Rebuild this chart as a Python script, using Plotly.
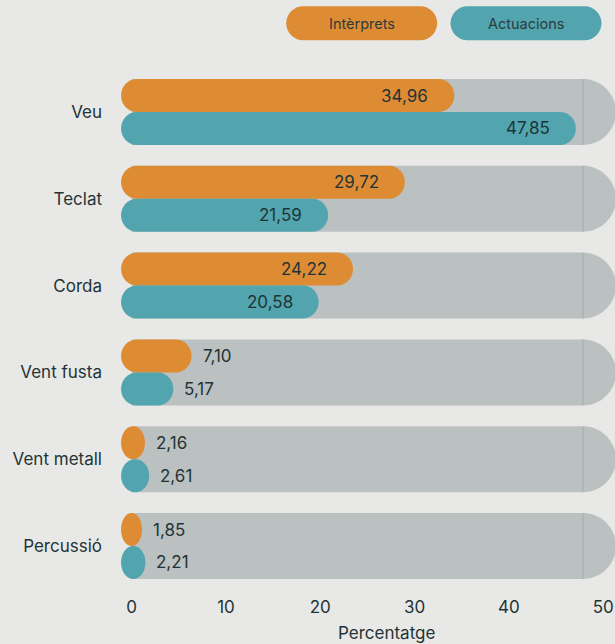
import plotly.graph_objects as go

# ---------------- data ----------------
categories = ["Veu", "Teclat", "Corda", "Vent fusta", "Vent metall", "Percussió"]
interprets = [34.96, 29.72, 24.22, 7.10, 2.16, 1.85]
actuacions = [47.85, 21.59, 20.58, 5.17, 2.61, 2.21]
series_names = ["Intèrprets", "Actuacions"]
x_ticks = [0, 10, 20, 30, 40, 50]
axis_title = "Percentatge"

# ---------------- style ----------------
W, H = 615, 644
BG = "#E8E8E6"
ORANGE = "#DE8C34"
TEAL = "#52A5AE"
GREY = "#BBC0C0"
SEAM = "#A4ABAB"
TXT = "#1F3436"
FONT = "Inter"
FS = 17

M_L, M_R, M_T, M_B = 110, 0, 60, 54
PW = W - M_L - M_R
PH = H - M_T - M_B
X_RANGE = [-2.30, 51.25]
Y_RANGE = [5.507, -0.599]
XS = PW / (X_RANGE[1] - X_RANGE[0])      # px per x unit
YS = PH / (Y_RANGE[0] - Y_RANGE[1])      # px per y unit
HALF = 0.38                               # half band height (y units)
BAR_PAD_L = 1.13                          # left cap overhang (x units)
BAR_END_OFF = -0.75
CAP_PX = 16

K = 0.5523


def rrect(x0, x1, y0, y1, rx, ry, left=True, right=True):
    rx = min(rx, (x1 - x0) / 2)
    ry = min(ry, (y1 - y0) / 2)
    p = []
    sx = x0 + rx if left else x0
    p.append(f"M {sx},{y0}")
    ex = x1 - rx if right else x1
    p.append(f"L {ex},{y0}")
    if right:
        p.append(f"C {x1 - rx + K * rx},{y0} {x1},{y0 + ry - K * ry} {x1},{y0 + ry}")
        p.append(f"L {x1},{y1 - ry}")
        p.append(f"C {x1},{y1 - ry + K * ry} {x1 - rx + K * rx},{y1} {x1 - rx},{y1}")
    else:
        p.append(f"L {x1},{y1}")
    p.append(f"L {sx},{y1}")
    if left:
        p.append(f"C {x0 + rx - K * rx},{y1} {x0},{y1 - ry + K * ry} {x0},{y1 - ry}")
        p.append(f"L {x0},{y0 + ry}")
        p.append(f"C {x0},{y0 + ry - K * ry} {x0 + rx - K * rx},{y0} {x0 + rx},{y0}")
    p.append("Z")
    return " ".join(p)


fig = go.Figure()
shapes = []
annotations = []

vmax = max(max(interprets), max(actuacions))
band_cap = (HALF * YS) / XS

for i, cat in enumerate(categories):
    # grey background band
    shapes.append(dict(type="path", xref="x", yref="y", layer="below",
                       path=rrect(0, vmax + band_cap, i - HALF, i + HALF,
                                  band_cap, HALF, left=False, right=True),
                       fillcolor=GREY, line=dict(width=0)))
    shapes.append(dict(type="line", xref="x", yref="y", layer="below",
                       x0=vmax, x1=vmax, y0=i - HALF, y1=i + HALF,
                       line=dict(color=SEAM, width=1)))
    for vals, col, y0, y1 in [(interprets, ORANGE, i - HALF, i),
                              (actuacions, TEAL, i, i + HALF)]:
        v = vals[i]
        x0 = -BAR_PAD_L
        x1 = v + BAR_END_OFF
        shapes.append(dict(type="path", xref="x", yref="y", layer="above",
                           path=rrect(x0, x1, y0, y1, CAP_PX / XS, (y1 - y0) / 2),
                           fillcolor=col, line=dict(width=0)))
        label = f"{v:.2f}".replace(".", ",")
        inside = v >= 10
        annotations.append(dict(x=x1, y=(y0 + y1) / 2, xref="x", yref="y",
                                text=label, showarrow=False,
                                xanchor="right" if inside else "left",
                                xshift=-24 if inside else 9, yanchor="middle",
                                font=dict(family=FONT, size=FS, color=TXT)))

# invisible trace to carry the axes / hover
fig.add_trace(go.Scatter(x=interprets + actuacions,
                         y=list(range(len(categories))) * 2,
                         mode="markers", marker=dict(opacity=0),
                         hoverinfo="skip", showlegend=False))

# legend pills (paper / pixel)
pill_w, pill_h = 151, 34
pill_centers_px = [361.7, 526.0]
pill_cy_px = 23.3
for name, col, cx in zip(series_names, [ORANGE, TEAL], pill_centers_px):
    xa = (cx - M_L) / PW
    ya = (H - M_B - pill_cy_px) / PH
    r = pill_h / 2
    shapes.append(dict(type="path", xref="paper", yref="paper",
                       xsizemode="pixel", ysizemode="pixel",
                       xanchor=xa, yanchor=ya,
                       path=rrect(-pill_w / 2, pill_w / 2, -pill_h / 2, pill_h / 2, r, r),
                       fillcolor=col, line=dict(width=0)))
    annotations.append(dict(x=xa, y=ya, xref="paper", yref="paper", text=name,
                            showarrow=False, xanchor="center", yanchor="middle",
                            font=dict(family=FONT, size=14.5, color="#2B3B3D")))

annotations.append(dict(x=(386.5 - M_L) / PW, y=(H - M_B - 633) / PH,
                        xref="paper", yref="paper", text=axis_title,
                        showarrow=False, xanchor="center", yanchor="middle",
                        font=dict(family=FONT, size=FS, color=TXT)))

fig.update_layout(
    width=W, height=H,
    margin=dict(l=M_L, r=M_R, t=M_T, b=M_B),
    paper_bgcolor=BG, plot_bgcolor=BG,
    shapes=shapes, annotations=annotations,
    showlegend=False,
    xaxis=dict(range=X_RANGE, tickvals=x_ticks, ticktext=[str(t) for t in x_ticks],
               showgrid=False, zeroline=False, showline=False, ticks="",
               tickfont=dict(family=FONT, size=FS, color=TXT),
               ticklabelstandoff=5, fixedrange=True),
    yaxis=dict(range=Y_RANGE, tickvals=list(range(len(categories))),
               ticktext=categories, showgrid=False, zeroline=False,
               showline=False, ticks="", ticklabelstandoff=7,
               tickfont=dict(family=FONT, size=FS, color=TXT), fixedrange=True),
)

fig.write_html("out.html", config={"displayModeBar": False})

# remove the default page margin so the figure sits at the window origin
with open("out.html", "r", encoding="utf-8") as f:
    html = f.read()
html = html.replace("<head>", "<head><style>html,body{margin:0;padding:0;background:%s;}</style>" % BG, 1)
with open("out.html", "w", encoding="utf-8") as f:
    f.write(html)
